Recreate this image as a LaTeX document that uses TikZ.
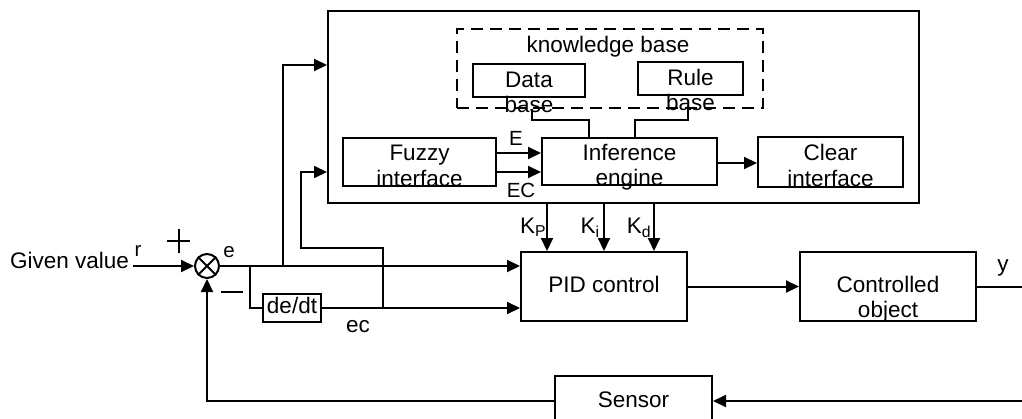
\documentclass[tikz,border=0pt]{standalone}
\usepackage{fontspec}
\setmainfont{Liberation Sans}
\usetikzlibrary{arrows.meta}
\begin{document}
\begin{tikzpicture}[x=1pt,y=-1pt,
  line width=2pt,
  box/.style={draw, rectangle, inner sep=0pt},
  txt/.style={font=\fontsize{22.5}{27}\selectfont, inner sep=0pt, anchor=base},
  stxt/.style={font=\fontsize{20.5}{24}\selectfont, inner sep=0pt, anchor=base},
  arr/.style={-{Triangle[length=13pt,width=12pt]}},
  kbstyle/.style={draw, rectangle, inner sep=0pt, dash pattern=on 12pt off 7pt}
]
\useasboundingbox (0,0) rectangle (1022,418);
\clip (0,0) rectangle (1022,418);

% boxes
\node[box, minimum width=591pt, minimum height=192pt] (big) at (623.5,107) {};
\node[kbstyle, minimum width=306pt, minimum height=79pt] (kb) at (610,68.5) {};
\node[box, minimum width=112pt, minimum height=33pt] (data) at (529,80.5) {};
\node[box, minimum width=105pt, minimum height=33pt] (rule) at (690.5,78.5) {};
\node[box, minimum width=153pt, minimum height=48pt] (fz) at (419.5,162) {};
\node[box, minimum width=175pt, minimum height=47pt] (inf) at (629.5,161.5) {};
\node[box, minimum width=145pt, minimum height=50pt] (clr) at (830.5,162) {};
\node[box, minimum width=166pt, minimum height=69pt] (pid) at (604,286.5) {};
\node[box, minimum width=176pt, minimum height=69pt] (obj) at (888,286.5) {};
\node[box, minimum width=58pt, minimum height=28pt] (dedt) at (292,308) {};
\node[box, minimum width=157pt, minimum height=51pt] (sensor) at (633.5,401) {};
\node[draw, circle, minimum size=24pt, inner sep=0pt] (sum) at (207,266) {};
\draw (sum.45) -- (sum.225) (sum.135) -- (sum.315);

% texts
\node[txt] (tkb) at (608,52) {knowledge base};
\node[txt] (tdata1) at (529,87) {Data};
\node[txt] (tdata2) at (529,112) {base};
\node[txt] (trule1) at (690.5,85) {Rule};
\node[txt] (trule2) at (690.5,110) {base};
\node[txt] (tfz1) at (419.5,160) {Fuzzy};
\node[txt] (tfz2) at (419.5,186) {interface};
\node[txt] (tinf1) at (629.5,160) {Inference};
\node[txt] (tinf2) at (629.5,185) {engine};
\node[txt] (tclr1) at (830.5,160) {Clear};
\node[txt] (tclr2) at (830.5,186) {interface};
\node[txt] (tpid) at (604,292) {PID control};
\node[txt] (tobj1) at (888,292) {Controlled};
\node[txt] (tobj2) at (888,317) {object};
\node[txt] (tdedt) at (292,313) {de/dt};
\node[txt] (tsensor) at (633.5,407) {Sensor};
\node[txt, anchor=base west] (tgv) at (9,268) {Given value};
\node[stxt] (tr) at (138,256) {r};
\node[stxt] (te) at (229,257) {e};
\node[stxt] (tE) at (516,145) {E};
\node[stxt] (tEC) at (521,197) {EC};
\node[txt] (tec) at (358,332) {ec};
\node[txt] (ty) at (1003,271) {y};
\node[txt] (tkp) at (533,233) {K\textsubscript{P}};
\node[txt] (tki) at (590,233) {K\textsubscript{i}};
\node[txt] (tkd) at (639,233) {K\textsubscript{d}};

% signs
\draw (167,241) -- (190,241) (178.5,229) -- (178.5,253);
\draw (221,292) -- (243,292);

% coordinates
\coordinate (in) at (133,266);
\coordinate (yE) at (0,153);
\coordinate (yEC) at (0,172);
\coordinate (yC) at (0,163);
\coordinate (kp) at (547,0);
\coordinate (ki) at (604,0);
\coordinate (kd) at (654,0);
\coordinate (br1) at (250,266);
\coordinate (br2) at (283,266);
\coordinate (br3) at (383,308);
\coordinate (mid3) at (301,248);
\coordinate (y65) at (0,65);
\coordinate (rin) at (1022,401);
\coordinate (out) at (1022,286.5);

% connectors
\draw[arr] (in) -- (sum.west);
\draw[arr] (sum.east) -- (pid.west |- sum);
\draw (br1) |- (dedt.west);
\draw[arr] (dedt.east) -- (pid.west |- dedt.east);
\draw[arr] (br2) |- (big.west |- y65);
\draw[arr] (br3) |- (mid3) |- (big.west |- yEC);
\draw[arr] (fz.east |- yE) -- (inf.west |- yE);
\draw[arr] (fz.east |- yEC) -- (inf.west |- yEC);
\draw[arr] (inf.east |- yC) -- (clr.west |- yC);
\draw ([xshift=3pt,yshift=-11pt]data.south) -- ++(0,11) -| ([xshift=-40.5pt]inf.north);
\draw ([xshift=-2.5pt,yshift=-13pt]rule.south) -- ++(0,11) -| ([xshift=5.5pt]inf.north);
\draw[arr] (big.south -| kp) -- (pid.north -| kp);
\draw[arr] (big.south -| ki) -- (pid.north -| ki);
\draw[arr] (big.south -| kd) -- (pid.north -| kd);
\draw[arr] (pid.east) -- (obj.west);
\draw (obj.east) -- (out);
\draw[arr] (rin) -- (sensor.east);
\draw[arr] (sensor.west) -| (sum.south);
\end{tikzpicture}
\end{document}
